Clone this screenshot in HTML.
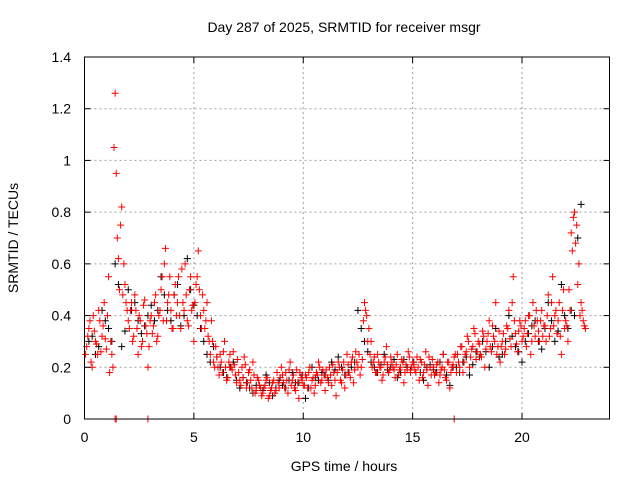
<!DOCTYPE html>
<html><head><meta charset="utf-8"><style>
body{margin:0;background:#fff;width:640px;height:480px;overflow:hidden}
text{font-family:"Liberation Sans",sans-serif;font-size:14px;fill:#000}
</style></head><body>
<svg id="chart" width="640" height="480" xmlns="http://www.w3.org/2000/svg">
<text x="344" y="32" text-anchor="middle">Day 287 of 2025, SRMTID for receiver msgr</text>
<text x="344" y="471" text-anchor="middle">GPS time / hours</text>
<text x="18" y="238" text-anchor="middle" transform="rotate(-90 18 238)">SRMTID / TECUs</text>
<g id="grid"></g><g id="marks"></g><g id="axes"></g>
</svg>
<script>
const xTicks=[0,5,10,15,20];
const yTicks=[0,0.2,0.4,0.6,0.8,1,1.2,1.4];
const yTickLabels=["0","0.2","0.4","0.6","0.8","1","1.2","1.4"];
const redStart=0.1, redStep=0.1;
const redValues=[0.28,0.35,0.22,0.40,0.30,0.25,0.38,0.32,0.45,0.27,
0.55,0.30,0.20,1.26,0.70,0.50,0.82,0.60,0.45,0.38,
0.42,0.30,0.48,0.35,0.40,0.28,0.44,0.36,0.20,0.38,
0.33,0.45,0.30,0.40,0.50,0.38,0.66,0.45,0.55,0.35,
0.48,0.40,0.55,0.35,0.45,0.60,0.38,0.50,0.42,0.30,
0.52,0.65,0.40,0.48,0.35,0.45,0.30,0.38,0.22,0.28,
0.20,0.25,0.18,0.30,0.15,0.22,0.20,0.26,0.17,0.23,
0.15,0.20,0.24,0.12,0.18,0.15,0.22,0.10,0.16,0.13,
0.09,0.12,0.15,0.08,0.11,0.14,0.10,0.18,0.12,0.20,
0.14,0.18,0.10,0.22,0.15,0.12,0.19,0.08,0.16,0.13,
0.17,0.12,0.20,0.15,0.10,0.18,0.22,0.14,0.19,0.11,
0.16,0.20,0.13,0.18,0.09,0.22,0.15,0.19,0.12,0.25,
0.18,0.22,0.14,0.26,0.20,0.17,0.23,0.45,0.40,0.35,
0.30,0.22,0.18,0.25,0.20,0.15,0.22,0.28,0.18,0.24,
0.20,0.16,0.25,0.19,0.23,0.14,0.21,0.26,0.18,0.22,
0.19,0.24,0.15,0.22,0.18,0.26,0.13,0.20,0.23,0.17,
0.21,0.14,0.19,0.25,0.16,0.22,0.12,0.20,0.24,0.18,
0.22,0.28,0.18,0.25,0.32,0.20,0.27,0.35,0.23,0.30,
0.25,0.34,0.20,0.30,0.38,0.26,0.32,0.45,0.28,0.22,
0.30,0.25,0.36,0.42,0.28,0.55,0.33,0.26,0.38,0.30,
0.35,0.28,0.40,0.25,0.45,0.32,0.38,0.30,0.42,0.36,
0.30,0.48,0.35,0.55,0.40,0.33,0.45,0.25,0.50,0.38,
0.30,0.42,0.65,0.80,0.75,0.60,0.45,0.38,0.35];
const red2Start=0.05, red2Step=0.1;
const red2Values=[0.25,0.32,0.38,0.20,0.34,0.29,0.42,0.26,0.36,0.31,
0.40,0.18,0.25,1.05,0.95,0.62,0.75,0.48,0.52,0.42,
0.35,0.45,0.32,0.42,0.25,0.38,0.30,0.46,0.33,0.28,
0.40,0.36,0.48,0.32,0.42,0.55,0.60,0.38,0.48,0.42,
0.35,0.52,0.45,0.40,0.58,0.42,0.48,0.36,0.55,0.44,
0.45,0.55,0.50,0.35,0.42,0.38,0.32,0.25,0.30,0.20,
0.24,0.17,0.22,0.26,0.20,0.16,0.25,0.19,0.21,0.14,
0.18,0.13,0.16,0.21,0.14,0.19,0.12,0.17,0.11,0.15,
0.12,0.10,0.13,0.16,0.09,0.12,0.15,0.11,0.14,0.16,
0.17,0.12,0.15,0.19,0.13,0.17,0.11,0.14,0.18,0.15,
0.13,0.16,0.18,0.12,0.16,0.13,0.17,0.20,0.15,0.17,
0.19,0.14,0.17,0.21,0.15,0.18,0.20,0.14,0.22,0.17,
0.21,0.16,0.24,0.19,0.22,0.25,0.20,0.38,0.42,0.30,
0.25,0.20,0.24,0.18,0.22,0.20,0.17,0.24,0.21,0.19,
0.22,0.19,0.21,0.17,0.20,0.22,0.18,0.19,0.24,0.20,
0.21,0.18,0.20,0.23,0.16,0.21,0.19,0.24,0.17,0.20,
0.18,0.22,0.17,0.20,0.19,0.15,0.22,0.18,0.21,0.25,
0.25,0.20,0.28,0.22,0.26,0.30,0.24,0.28,0.33,0.26,
0.29,0.24,0.32,0.27,0.33,0.28,0.36,0.30,0.25,0.34,
0.28,0.33,0.27,0.35,0.31,0.45,0.38,0.29,0.34,0.36,
0.32,0.38,0.33,0.40,0.30,0.36,0.42,0.34,0.38,0.32,
0.36,0.40,0.32,0.45,0.36,0.42,0.38,0.32,0.42,0.35,
0.36,0.50,0.72,0.78,0.68,0.52,0.40,0.42,0.36];
const blackStart=0.2, blackStep=0.3;
const blackValues=[0.30,0.25,0.42,0.35,0.60,0.28,0.50,0.45,0.33,0.40,
0.38,0.55,0.42,0.48,0.36,0.62,0.44,0.35,0.25,0.28,
0.20,0.16,0.22,0.12,0.14,0.10,0.13,0.17,0.09,0.15,
0.12,0.18,0.14,0.08,0.20,0.15,0.17,0.22,0.24,0.17,
0.20,0.42,0.30,0.22,0.18,0.25,0.20,0.16,0.23,0.19,
0.24,0.15,0.21,0.18,0.25,0.13,0.20,0.22,0.17,0.26,
0.30,0.20,0.35,0.25,0.40,0.28,0.22,0.33,0.38,0.27,
0.45,0.30,0.52,0.35,0.40,0.83];
const black2Start=0.35, black2Step=0.3;
const black2Values=[0.32,0.28,0.38,0.30,0.52,0.34,0.42,0.38,0.36,0.44,
0.42,0.48,0.38,0.52,0.40,0.50,0.40,0.30,0.22,0.24,
0.18,0.20,0.15,0.16,0.12,0.13,0.11,0.14,0.12,0.13,
0.15,0.14,0.17,0.12,0.16,0.18,0.15,0.19,0.20,0.18,
0.22,0.35,0.26,0.20,0.21,0.19,0.23,0.18,0.20,0.22,
0.18,0.20,0.19,0.22,0.17,0.20,0.18,0.24,0.21,0.24,
0.26,0.28,0.24,0.30,0.32,0.26,0.30,0.36,0.30,0.35,
0.38,0.34,0.40,0.42,0.70];
const zeroTimes=[1.4,1.45,2.9,16.9];
const L=84.5,R=609.5,T=57,B=419;
const X=v=>L+v/24*(R-L), Y=v=>B-v/1.4*(B-T);
const NS='http://www.w3.org/2000/svg';
function mk(tag,attrs,parent){const e=document.createElementNS(NS,tag);for(const k in attrs)e.setAttribute(k,attrs[k]);parent.appendChild(e);return e;}
const grid=document.getElementById('grid'),marks=document.getElementById('marks'),axes=document.getElementById('axes');
yTicks.forEach((v,i)=>{
 if(i>0&&i<yTicks.length-1){const g=mk('line',{x1:L,x2:R,y1:Y(v),y2:Y(v),stroke:'#a0a0a0','stroke-dasharray':'2,3'},grid);
 
 }
 const t=mk('line',{x1:L,x2:L+6,y1:Y(v),y2:Y(v),stroke:'#000'},axes);
 
 
 mk('line',{x1:R,x2:R-6,y1:Y(v),y2:Y(v),stroke:'#000'},axes);
 const lb=mk('text',{x:71,y:Y(v)+5,'text-anchor':'end'},axes);lb.textContent=yTickLabels[i];
 
 
});
xTicks.forEach(v=>{
 if(v>0){const g=mk('line',{x1:X(v),x2:X(v),y1:T,y2:B,stroke:'#a0a0a0','stroke-dasharray':'2,3'},grid);
 
 }
 const t=mk('line',{x1:X(v),x2:X(v),y1:B,y2:B-6,stroke:'#000'},axes);
 
 
 mk('line',{x1:X(v),x2:X(v),y1:T,y2:T+6,stroke:'#000'},axes);
 const lb=mk('text',{x:X(v),y:B+23,'text-anchor':'middle'},axes);lb.textContent=String(v);
 
 
});
const border=mk('rect',{x:L,y:T,width:R-L,height:B-T,fill:'none',stroke:'#000'},axes);


function plus(t,v,color,name){const x=X(t),y=Y(v);
 const p=mk('path',{d:`M${x-3.5},${y}H${x+3.5}M${x},${y-3.5}V${y+3.5}`,stroke:color,'stroke-width':1,fill:'none'},marks);
 
 }
blackValues.forEach((v,i)=>plus(blackStart+i*blackStep,v,'#000','point-black'));
black2Values.forEach((v,i)=>plus(black2Start+i*black2Step,v,'#000','point-black'));
redValues.forEach((v,i)=>plus(redStart+i*redStep,v,'#f00','point-red'));
red2Values.forEach((v,i)=>plus(red2Start+i*red2Step,v,'#f00','point-red'));
zeroTimes.forEach(t=>plus(t,0,'#f00','point-zero'));
</script>
</body></html>
